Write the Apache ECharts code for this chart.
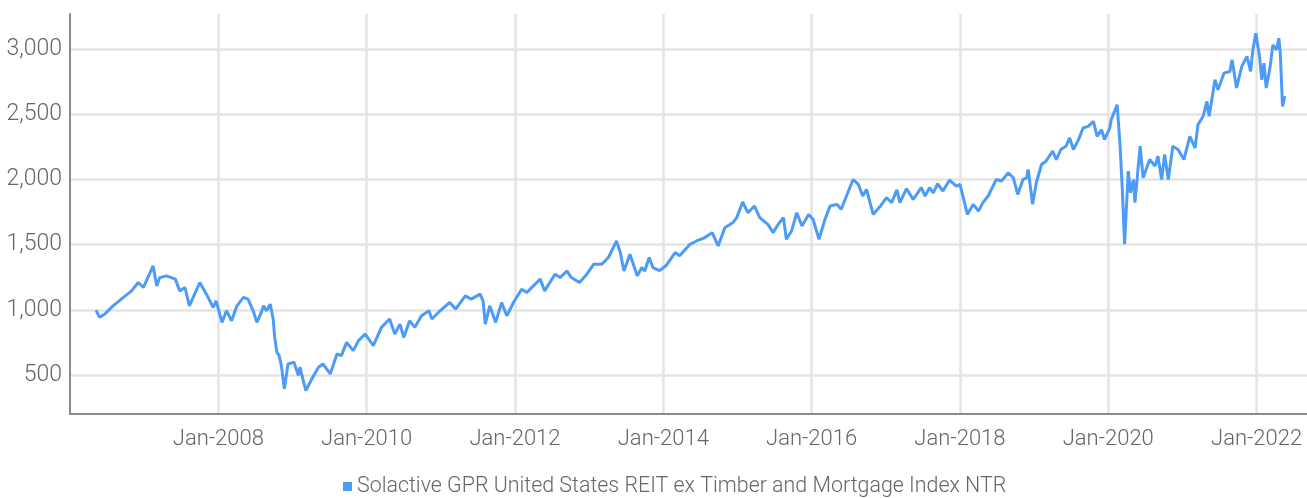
<!DOCTYPE html>
<html>
<head>
<meta charset="utf-8">
<script src="https://cdn.jsdelivr.net/npm/echarts@6/dist/echarts.min.js"></script>
<style>
  html, body { margin: 0; padding: 0; background: #fff; }
  #chart { width: 1307px; height: 498px; }
</style>
</head>
<body>
<div id="chart"></div>
<script>
// dates as decimal years
const dates = [
  2006.35, 2006.40, 2006.47, 2006.58, 2006.72, 2006.83, 2006.92, 2006.99,
  2007.06, 2007.12, 2007.17, 2007.21, 2007.30, 2007.42, 2007.48, 2007.55,
  2007.61, 2007.66, 2007.75, 2007.84, 2007.93, 2007.97, 2008.05, 2008.11,
  2008.18, 2008.25, 2008.34, 2008.40, 2008.47, 2008.52, 2008.58, 2008.61,
  2008.65, 2008.70, 2008.74, 2008.76, 2008.79, 2008.82, 2008.85, 2008.89,
  2008.94, 2009.02, 2009.08, 2009.10, 2009.18, 2009.26, 2009.35, 2009.41,
  2009.51, 2009.60, 2009.66, 2009.73, 2009.82, 2009.89, 2009.98, 2010.09,
  2010.20, 2010.31, 2010.38, 2010.45, 2010.50, 2010.58, 2010.65, 2010.74,
  2010.84, 2010.88, 2010.99, 2011.12, 2011.20, 2011.33, 2011.41, 2011.53,
  2011.57, 2011.60, 2011.66, 2011.74, 2011.82, 2011.89, 2011.98, 2012.09,
  2012.16, 2012.34, 2012.40, 2012.54, 2012.61, 2012.70, 2012.76, 2012.87,
  2012.97, 2013.06, 2013.17, 2013.26, 2013.37, 2013.42, 2013.47, 2013.55,
  2013.65, 2013.71, 2013.75, 2013.81, 2013.86, 2013.95, 2014.04, 2014.16,
  2014.22, 2014.36, 2014.45, 2014.56, 2014.66, 2014.74, 2014.83, 2014.94,
  2014.99, 2015.07, 2015.14, 2015.23, 2015.30, 2015.41, 2015.48, 2015.55,
  2015.62, 2015.66, 2015.73, 2015.80, 2015.87, 2015.96, 2016.02, 2016.10,
  2016.18, 2016.25, 2016.34, 2016.40, 2016.47, 2016.56, 2016.63, 2016.69,
  2016.74, 2016.83, 2016.92, 2017.01, 2017.08, 2017.15, 2017.19, 2017.28,
  2017.37, 2017.48, 2017.53, 2017.59, 2017.64, 2017.70, 2017.77, 2017.86,
  2017.95, 2018.00, 2018.04, 2018.10, 2018.18, 2018.25, 2018.31, 2018.38,
  2018.49, 2018.56, 2018.65, 2018.72, 2018.78, 2018.85, 2018.90, 2018.92,
  2018.98, 2019.03, 2019.10, 2019.16, 2019.25, 2019.30, 2019.36, 2019.43,
  2019.48, 2019.53, 2019.60, 2019.66, 2019.73, 2019.80, 2019.85, 2019.91,
  2019.95, 2020.02, 2020.04, 2020.12, 2020.16, 2020.19, 2020.22, 2020.27,
  2020.30, 2020.34, 2020.36, 2020.43, 2020.47, 2020.56, 2020.63, 2020.67,
  2020.72, 2020.76, 2020.81, 2020.87, 2020.94, 2021.02, 2021.10, 2021.17,
  2021.21, 2021.28, 2021.33, 2021.36, 2021.44, 2021.48, 2021.56, 2021.64,
  2021.67, 2021.73, 2021.80, 2021.87, 2021.92, 2021.95, 2021.99, 2022.04,
  2022.07, 2022.10, 2022.13, 2022.18, 2022.22, 2022.27, 2022.30, 2022.32,
  2022.35, 2022.38
];
const values = [
  997, 942, 967, 1030, 1095, 1145, 1209, 1171,
  1260, 1337, 1183, 1247, 1260, 1235, 1145, 1171,
  1030, 1095, 1209, 1120, 1018, 1069, 903, 992,
  915, 1030, 1095, 1082, 992, 903, 980, 1030,
  992, 1043, 929, 788, 674, 648, 571, 393,
  584, 597, 495, 559, 380, 469, 559, 584,
  508, 661, 648, 750, 686, 763, 814, 724,
  865, 929, 814, 890, 788, 915, 865, 954,
  992, 929, 992, 1056, 1005, 1107, 1082, 1120,
  1069, 890, 1030, 903, 1056, 954, 1056, 1158,
  1133, 1235, 1145, 1273, 1247, 1298, 1247, 1209,
  1273, 1349, 1349, 1401, 1528, 1439, 1298, 1426,
  1260, 1324, 1298, 1401, 1324, 1300, 1340, 1439,
  1414, 1502, 1528, 1554, 1592, 1490, 1630, 1669,
  1707, 1827, 1745, 1796, 1707, 1656, 1592, 1656,
  1707, 1541, 1605, 1745, 1643, 1732, 1694, 1541,
  1694, 1796, 1809, 1771, 1873, 2000, 1962, 1873,
  1924, 1732, 1790, 1860, 1822, 1920, 1822, 1929,
  1847, 1937, 1873, 1937, 1898, 1967, 1911, 1995,
  1949, 1962, 1873, 1732, 1809, 1758, 1822, 1873,
  2000, 1988, 2051, 2013, 1885, 2000, 2013, 2077,
  1809, 1975, 2115, 2140, 2217, 2153, 2230, 2255,
  2319, 2230, 2306, 2395, 2408, 2446, 2331, 2383,
  2306, 2395, 2459, 2574, 2255, 1924, 1503, 2064,
  1898, 2000, 1822, 2255, 2013, 2153, 2102, 2179,
  2000, 2191, 2000, 2255, 2230, 2153, 2331, 2242,
  2421, 2485, 2599, 2485, 2765, 2689, 2816, 2829,
  2918, 2702, 2867, 2944, 2829, 2995, 3122, 2944,
  2765, 2893, 2702, 2855, 3033, 2995, 3084, 2969,
  2561, 2640
];
const xTicks = [2008, 2010, 2012, 2014, 2016, 2018, 2020, 2022];
const yTicks = [500, 1000, 1500, 2000, 2500, 3000];
const seriesName = 'Solactive GPR United States REIT ex Timber and Mortgage Index NTR';

const font = "Roboto, 'Noto Sans', sans-serif";
const chart = echarts.init(document.getElementById('chart'));
chart.setOption({
  animation: false,
  grid: { left: 70, right: 0, top: 14, bottom: 84, containLabel: false },
  legend: {
    left: 338,
    top: 471,
    icon: 'rect',
    itemWidth: 9,
    itemHeight: 9,
    itemGap: 4,
    textStyle: { fontFamily: font, fontWeight: 300, fontSize: 21.4, color: '#666' },
    data: [seriesName]
  },
  xAxis: {
    type: 'value',
    min: 2006,
    max: 2022.68,
    axisLine: { show: true, lineStyle: { color: '#8a8a8a', width: 2 } },
    axisTick: { show: false, customValues: xTicks },
    axisLabel: {
      customValues: xTicks,
      margin: 14,
      fontFamily: font,
      fontWeight: 300,
      fontSize: 22,
      color: '#666',
      formatter: v => 'Jan-' + v
    },
    splitLine: { show: true, lineStyle: { color: '#e4e4e4', width: 2.5 } }
  },
  yAxis: {
    type: 'value',
    min: 200,
    max: 3270,
    axisLine: { show: true, lineStyle: { color: '#8a8a8a', width: 2 } },
    axisTick: { show: false, customValues: yTicks },
    axisLabel: {
      customValues: yTicks,
      margin: 8,
      fontFamily: font,
      fontWeight: 300,
      fontSize: 23,
      color: '#666',
      formatter: v => v.toLocaleString('en-US')
    },
    splitLine: { show: true, lineStyle: { color: '#e4e4e4', width: 2.5 } }
  },
  series: [{
    name: seriesName,
    type: 'line',
    showSymbol: false,
    color: '#4d9bf8',
    lineStyle: { width: 3 },
    data: dates.map((d, i) => [d, values[i]])
  }]
});
</script>
</body>
</html>
